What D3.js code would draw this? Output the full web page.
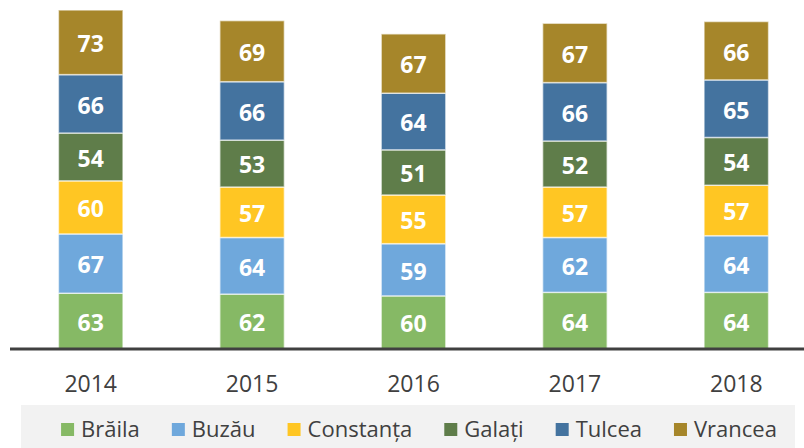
<!DOCTYPE html>
<html>
<head>
<meta charset="utf-8">
<script src="https://cdn.jsdelivr.net/npm/d3@7"></script>
<style>
  body { margin: 0; background: #fff; }
  svg { display: block; font-family: "Open Sans", "Liberation Sans", sans-serif; }
</style>
</head>
<body>
<svg id="chart" width="804" height="448"></svg>
<script>
var years = ['2014', '2015', '2016', '2017', '2018']
var counties = ['Brăila', 'Buzău', 'Constanța', 'Galați', 'Tulcea', 'Vrancea']
var colors = ['#86B965', '#6FA8DC', '#FFC623', '#5F7D4A', '#44739F', '#A6862A']

var braila = [63, 62, 60, 64, 64]
var buzau = [67, 64, 59, 62, 64]
var constanta = [60, 57, 55, 57, 57]
var galati = [54, 53, 51, 52, 54]
var tulcea = [66, 66, 64, 66, 65]
var vrancea = [73, 69, 67, 67, 66]

var series = [braila, buzau, constanta, galati, tulcea, vrancea]

// rows for d3.stack
var rows = years.map((y, i) => {
    var row = { year: y }
    counties.forEach((c, j) => { row[c] = series[j][i] })
    return row
})

var svg = d3.select('#chart')

var x = d3.scaleBand()
            .domain(years)
            .range([10, 817])
            .paddingInner(0.6)
            .paddingOuter(0.3)

var y = d3.scaleLinear()
            .domain([0, 383])
            .range([349, 10])

var color = d3.scaleOrdinal().domain(counties).range(colors)

var stacked = d3.stack().keys(counties)(rows)

var layer = svg.selectAll('g.layer')
                .data(stacked)
                .join('g')
                .attr('class', 'layer')
                .attr('fill', d => color(d.key))

layer.selectAll('rect')
        .data(d => d)
        .join('rect')
        .attr('x', d => x(d.data.year))
        .attr('y', d => y(d[1]))
        .attr('width', x.bandwidth())
        .attr('height', d => y(d[0]) - y(d[1]))
        .attr('stroke', 'rgba(255,255,255,0.6)')
        .attr('stroke-width', 1.5)

// value labels
layer.selectAll('text')
        .data(d => d)
        .join('text')
        .attr('x', d => x(d.data.year) + x.bandwidth() / 2)
        .attr('y', d => (y(d[0]) + y(d[1])) / 2)
        .attr('dy', '0.43em')
        .attr('text-anchor', 'middle')
        .attr('fill', '#fff')
        .attr('font-weight', 'bold')
        .attr('font-size', 23)
        .text(d => d[1] - d[0])

// x axis
var xAxis = svg.append('g')
                .attr('transform', 'translate(0,349)')
                .call(d3.axisBottom(x).tickSize(0))

xAxis.select('.domain').remove()
xAxis.append('line')
        .attr('x1', 10).attr('x2', 804)
        .attr('stroke', '#404040')
        .attr('stroke-width', 3)
xAxis.selectAll('text')
        .attr('y', 43)
        .attr('dy', 0)
        .attr('font-size', 23)
        .attr('fill', '#404040')
        .attr('font-family', '"Open Sans", sans-serif')

// legend
svg.append('rect')
    .attr('x', 21).attr('y', 405)
    .attr('width', 774).attr('height', 43)
    .attr('fill', '#F2F2F2')

var legend = svg.append('g')

var items = legend.selectAll('g')
                .data(counties)
                .join('g')

items.append('rect')
        .attr('width', 13).attr('height', 13)
        .attr('y', 423)
        .attr('fill', d => color(d))

items.append('text')
        .attr('x', 20)
        .attr('y', 437)
        .attr('font-size', 22)
        .attr('fill', '#404040')
        .text(d => d)

// place items one after another, then center the whole row
var gap = 32
var pos = 0
items.each(function () {
    var g = d3.select(this)
    g.attr('transform', 'translate(' + pos + ',0)')
    pos += 20 + g.select('text').node().getComputedTextLength() + gap
})
pos -= gap
legend.attr('transform', 'translate(' + (419 - pos / 2) + ',0)')
</script>
</body>
</html>
